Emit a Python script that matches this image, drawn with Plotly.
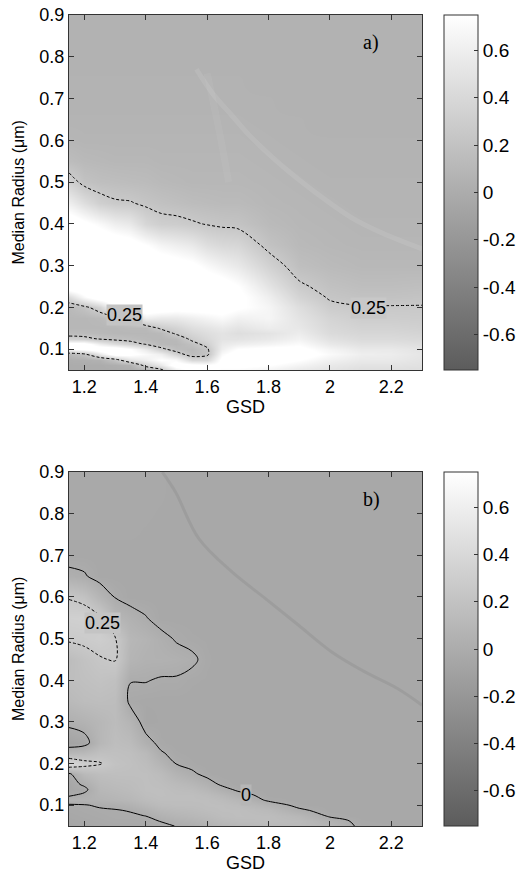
import plotly.graph_objects as go

# ---------------- data ----------------
gsd = [1.15, 1.2, 1.25, 1.3, 1.35, 1.4, 1.45, 1.5, 1.55, 1.6, 1.65, 1.7, 1.8, 1.9, 2.0, 2.1, 2.2, 2.3]
radius = [0.05, 0.0625, 0.075, 0.0875, 0.1, 0.1125, 0.125, 0.1375, 0.15, 0.175, 0.2, 0.225, 0.25,
          0.3, 0.35, 0.4, 0.45, 0.5, 0.55, 0.6, 0.65, 0.7, 0.75, 0.8, 0.85, 0.9]

# panel a) one list per GSD column, values from radius 0.05 up to 0.9
panel_a_by_gsd = [
    [0.0, 0.0, 0.02, 0.12, 0.7, 0.85, 0.35, 0.15, 0.1, 0.1, 0.12, 0.42, 0.95, 1.0, 1.0, 0.9, 0.6, 0.33, 0.15, 0.09, 0.07, 0.06, 0.06, 0.05, 0.05, 0.05],
    [0.0, 0.0, 0.03, 0.2, 0.8, 0.85, 0.32, 0.14, 0.1, 0.1, 0.2, 0.7, 0.95, 1.0, 1.0, 0.8, 0.45, 0.2, 0.12, 0.08, 0.07, 0.06, 0.06, 0.05, 0.05, 0.05],
    [0.0, 0.0, 0.05, 0.55, 0.9, 0.6, 0.22, 0.12, 0.1, 0.12, 0.36, 0.9, 1.0, 1.0, 0.95, 0.7, 0.32, 0.17, 0.11, 0.08, 0.07, 0.06, 0.06, 0.05, 0.05, 0.05],
    [0.0, 0.02, 0.2, 0.85, 0.9, 0.45, 0.18, 0.1, 0.1, 0.2, 0.75, 0.95, 1.0, 1.0, 0.9, 0.6, 0.27, 0.16, 0.1, 0.08, 0.07, 0.06, 0.06, 0.05, 0.05, 0.05],
    [0.0, 0.05, 0.5, 0.8, 0.75, 0.35, 0.15, 0.1, 0.12, 0.3, 0.9, 1.0, 1.0, 1.0, 0.85, 0.55, 0.26, 0.15, 0.1, 0.08, 0.07, 0.06, 0.06, 0.05, 0.05, 0.05],
    [0.05, 0.35, 0.6, 0.7, 0.55, 0.22, 0.12, 0.1, 0.12, 0.6, 0.95, 1.0, 1.0, 0.95, 0.75, 0.38, 0.22, 0.14, 0.1, 0.08, 0.07, 0.06, 0.06, 0.05, 0.05, 0.05],
    [0.2, 0.55, 0.75, 0.6, 0.3, 0.12, 0.1, 0.12, 0.28, 0.55, 0.9, 1.0, 1.0, 0.9, 0.65, 0.31, 0.19, 0.12, 0.09, 0.08, 0.07, 0.06, 0.06, 0.05, 0.05, 0.05],
    [0.6, 0.85, 0.7, 0.35, 0.15, 0.1, 0.12, 0.28, 0.35, 0.55, 0.85, 1.0, 1.0, 0.85, 0.6, 0.3, 0.17, 0.11, 0.09, 0.08, 0.07, 0.06, 0.06, 0.05, 0.05, 0.05],
    [0.85, 0.8, 0.4, 0.15, 0.12, 0.18, 0.3, 0.38, 0.45, 0.6, 0.85, 1.0, 0.95, 0.8, 0.55, 0.27, 0.15, 0.1, 0.09, 0.08, 0.07, 0.06, 0.06, 0.05, 0.05, 0.05],
    [0.85, 0.75, 0.4, 0.2, 0.22, 0.32, 0.4, 0.45, 0.5, 0.65, 0.85, 0.95, 0.9, 0.7, 0.45, 0.24, 0.14, 0.1, 0.09, 0.08, 0.07, 0.06, 0.06, 0.05, 0.05, 0.05],
    [0.7, 0.8, 0.8, 0.7, 0.6, 0.55, 0.5, 0.5, 0.55, 0.7, 0.85, 0.9, 0.85, 0.62, 0.4, 0.22, 0.13, 0.1, 0.09, 0.08, 0.07, 0.06, 0.06, 0.05, 0.05, 0.05],
    [0.7, 0.8, 0.85, 0.85, 0.75, 0.6, 0.5, 0.45, 0.5, 0.62, 0.78, 0.8, 0.75, 0.55, 0.38, 0.21, 0.13, 0.1, 0.09, 0.08, 0.07, 0.06, 0.06, 0.05, 0.05, 0.05],
    [0.65, 0.75, 0.85, 0.9, 0.8, 0.65, 0.55, 0.5, 0.58, 0.66, 0.66, 0.6, 0.5, 0.34, 0.2, 0.13, 0.1, 0.09, 0.08, 0.07, 0.06, 0.06, 0.05, 0.05, 0.05, 0.05],
    [0.55, 0.65, 0.75, 0.85, 0.8, 0.72, 0.64, 0.58, 0.54, 0.5, 0.45, 0.36, 0.28, 0.17, 0.12, 0.1, 0.09, 0.08, 0.07, 0.06, 0.06, 0.05, 0.05, 0.05, 0.05, 0.05],
    [0.5, 0.55, 0.62, 0.7, 0.65, 0.55, 0.48, 0.42, 0.4, 0.36, 0.29, 0.23, 0.19, 0.13, 0.1, 0.09, 0.08, 0.07, 0.06, 0.06, 0.05, 0.05, 0.05, 0.05, 0.05, 0.05],
    [0.45, 0.5, 0.55, 0.6, 0.55, 0.48, 0.42, 0.38, 0.35, 0.3, 0.26, 0.2, 0.16, 0.11, 0.09, 0.08, 0.07, 0.07, 0.06, 0.06, 0.05, 0.05, 0.05, 0.05, 0.05, 0.05],
    [0.45, 0.5, 0.55, 0.58, 0.55, 0.48, 0.42, 0.38, 0.35, 0.3, 0.26, 0.2, 0.16, 0.11, 0.09, 0.08, 0.07, 0.07, 0.06, 0.06, 0.05, 0.05, 0.05, 0.05, 0.05, 0.05],
    [0.45, 0.48, 0.5, 0.52, 0.5, 0.45, 0.4, 0.36, 0.33, 0.29, 0.26, 0.21, 0.17, 0.11, 0.09, 0.08, 0.07, 0.07, 0.06, 0.06, 0.05, 0.05, 0.05, 0.05, 0.05, 0.05],
]

# panel b) one list per GSD column, values from radius 0.05 up to 0.9
panel_b_by_gsd = [
    [-0.06, -0.05, -0.04, -0.03, -0.01, 0.05, -0.02, -0.05, -0.05, -0.02, 0.4, 0.1, -0.08, 0.03, 0.12, 0.16, 0.15, 0.27, 0.32, 0.24, 0.03, -0.04, -0.03, -0.03, -0.03, -0.03],
    [-0.05, -0.04, -0.03, -0.02, -0.005, 0.05, 0.02, -0.03, 0.02, 0.12, 0.3, 0.12, -0.05, 0.06, 0.15, 0.18, 0.2, 0.28, 0.33, 0.2, 0.01, -0.04, -0.03, -0.03, -0.03, -0.03],
    [-0.04, -0.03, -0.02, -0.01, 0.01, 0.06, 0.08, 0.1, 0.12, 0.16, 0.26, 0.18, 0.1, 0.1, 0.16, 0.2, 0.24, 0.3, 0.27, 0.08, -0.04, -0.04, -0.03, -0.03, -0.03, -0.03],
    [-0.03, -0.02, -0.01, -0.005, 0.02, 0.08, 0.1, 0.12, 0.14, 0.17, 0.2, 0.18, 0.16, 0.14, 0.15, 0.18, 0.26, 0.26, 0.1, -0.005, -0.04, -0.04, -0.03, -0.03, -0.03, -0.03],
    [-0.03, -0.02, -0.01, 0.005, 0.05, 0.1, 0.12, 0.14, 0.15, 0.17, 0.18, 0.17, 0.14, 0.08, -0.03, 0.005, 0.08, 0.1, 0.05, -0.04, -0.04, -0.04, -0.03, -0.03, -0.03, -0.03],
    [-0.03, -0.02, 0.002, 0.05, 0.1, 0.14, 0.16, 0.17, 0.17, 0.17, 0.15, 0.12, 0.04, -0.05, -0.04, 0.005, 0.05, 0.07, 0.005, -0.04, -0.04, -0.04, -0.035, -0.03, -0.03, -0.03],
    [-0.02, 0.005, 0.05, 0.1, 0.14, 0.16, 0.17, 0.17, 0.16, 0.14, 0.08, 0.01, -0.03, -0.04, -0.04, -0.01, 0.05, 0.03, -0.04, -0.04, -0.04, -0.04, -0.04, -0.035, -0.03, -0.03],
    [0.003, 0.04, 0.08, 0.12, 0.15, 0.16, 0.16, 0.15, 0.13, 0.07, -0.005, -0.03, -0.04, -0.04, -0.04, -0.01, 0.04, -0.01, -0.04, -0.04, -0.04, -0.04, -0.04, -0.04, -0.04, -0.04],
    [0.02, 0.06, 0.1, 0.13, 0.15, 0.16, 0.16, 0.14, 0.1, 0.02, -0.03, -0.04, -0.04, -0.04, -0.04, -0.03, 0.02, -0.03, -0.04, -0.04, -0.04, -0.04, -0.04, -0.04, -0.04, -0.04],
    [0.05, 0.09, 0.12, 0.15, 0.16, 0.16, 0.14, 0.1, 0.05, -0.03, -0.04, -0.04, -0.04, -0.04, -0.04, -0.035, -0.03, -0.035, -0.04, -0.04, -0.04, -0.04, -0.04, -0.04, -0.04, -0.04],
    [0.08, 0.12, 0.15, 0.16, 0.16, 0.14, 0.1, 0.04, -0.02, -0.04, -0.04, -0.04, -0.04, -0.04, -0.04, -0.04, -0.04, -0.04, -0.04, -0.04, -0.04, -0.04, -0.04, -0.04, -0.04, -0.04],
    [0.1, 0.14, 0.16, 0.16, 0.14, 0.1, 0.04, -0.02, -0.04, -0.04, -0.04, -0.04, -0.04, -0.04, -0.04, -0.04, -0.04, -0.04, -0.04, -0.04, -0.04, -0.04, -0.04, -0.04, -0.04, -0.04],
    [0.12, 0.15, 0.15, 0.12, 0.06, -0.02, -0.04, -0.04, -0.04, -0.04, -0.04, -0.04, -0.04, -0.04, -0.04, -0.04, -0.04, -0.04, -0.04, -0.04, -0.04, -0.04, -0.04, -0.04, -0.04, -0.04],
    [0.12, 0.13, 0.1, 0.02, -0.03, -0.04, -0.04, -0.04, -0.04, -0.04, -0.04, -0.04, -0.04, -0.04, -0.04, -0.04, -0.04, -0.04, -0.04, -0.04, -0.04, -0.04, -0.04, -0.04, -0.04, -0.04],
    [0.08, 0.05, -0.02, -0.04, -0.04, -0.04, -0.04, -0.04, -0.04, -0.04, -0.04, -0.04, -0.04, -0.04, -0.04, -0.04, -0.04, -0.04, -0.04, -0.04, -0.04, -0.04, -0.04, -0.04, -0.04, -0.04],
    [-0.02, -0.03, -0.04, -0.04, -0.04, -0.04, -0.04, -0.04, -0.04, -0.04, -0.04, -0.04, -0.04, -0.04, -0.04, -0.04, -0.04, -0.04, -0.04, -0.04, -0.04, -0.04, -0.04, -0.04, -0.04, -0.04],
    [-0.03, -0.04, -0.04, -0.04, -0.04, -0.04, -0.04, -0.04, -0.04, -0.04, -0.04, -0.04, -0.04, -0.04, -0.04, -0.04, -0.04, -0.04, -0.04, -0.04, -0.04, -0.04, -0.04, -0.04, -0.04, -0.04],
    [-0.03, -0.04, -0.04, -0.04, -0.04, -0.04, -0.04, -0.04, -0.04, -0.04, -0.04, -0.04, -0.04, -0.04, -0.04, -0.04, -0.04, -0.04, -0.04, -0.04, -0.04, -0.04, -0.04, -0.04, -0.04, -0.04],
]

# faint streaks visible in the maps
streak_a_gsd = [1.565, 1.62, 1.68, 1.74, 1.85, 1.955, 2.07, 2.17, 2.3]
streak_a_radius = [0.77, 0.71, 0.66, 0.61, 0.535, 0.474, 0.415, 0.378, 0.34]
streak_a2_gsd = [1.6, 1.64, 1.67]
streak_a2_radius = [0.76, 0.62, 0.5]
streak_b_gsd = [1.454, 1.497, 1.573, 1.681, 1.79, 1.898, 2.006, 2.114, 2.22, 2.3]
streak_b_radius = [0.9, 0.852, 0.74, 0.66, 0.596, 0.532, 0.468, 0.42, 0.38, 0.34]

x_ticks = [1.2, 1.4, 1.6, 1.8, 2.0, 2.2]
x_tick_text = ["1.2", "1.4", "1.6", "1.8", "2", "2.2"]
y_ticks = [0.1, 0.2, 0.3, 0.4, 0.5, 0.6, 0.7, 0.8, 0.9]
y_tick_text = ["0.1", "0.2", "0.3", "0.4", "0.5", "0.6", "0.7", "0.8", "0.9"]
cb_ticks = [-0.6, -0.4, -0.2, 0, 0.2, 0.4, 0.6]
cb_tick_text = ["-0.6", "-0.4", "-0.2", "0", "0.2", "0.4", "0.6"]

# ---------------- figure ----------------
W, H = 517, 873
FONT = "Liberation Sans, Arial, sans-serif"
AX = "#333333"
TS = 18
gray = [[0.0, "rgb(92,92,92)"], [0.5, "rgb(172,172,172)"], [1.0, "rgb(255,255,255)"]]


def rows(cols):
    return [list(r) for r in zip(*cols)]


def py(p):  # pixel row -> paper y
    return 1 - p / H


za = rows(panel_a_by_gsd)
zb = rows(panel_b_by_gsd)

panels = [
    dict(z=za, top=15, bot=370, xa="x", ya="y"),
    dict(z=zb, top=472, bot=826, xa="x2", ya="y2"),
]

fig = go.Figure()
for p in panels:
    fig.add_trace(go.Heatmap(
        x=gsd, y=radius, z=p["z"], xaxis=p["xa"], yaxis=p["ya"],
        zmin=-0.75, zmax=0.75, colorscale=gray, zsmooth="best", hoverinfo="skip",
        colorbar=dict(
            x=444 / W, xanchor="left", xpad=0, ypad=0,
            y=py((p["top"] + p["bot"]) / 2), yanchor="middle",
            len=p["bot"] - p["top"], lenmode="pixels",
            thickness=34, thicknessmode="pixels",
            outlinewidth=1, outlinecolor=AX,
            tickvals=cb_ticks, ticktext=cb_tick_text,
            ticks="inside", ticklen=4, tickcolor=AX,
            tickfont=dict(family=FONT, size=19, color="black"),
        ),
    ))

# streak overlays
fig.add_trace(go.Scatter(x=streak_a_gsd, y=streak_a_radius, xaxis="x", yaxis="y", mode="lines",
                         line=dict(color="rgba(255,255,255,0.09)", width=5, shape="spline"),
                         hoverinfo="skip", showlegend=False))
fig.add_trace(go.Scatter(x=streak_a2_gsd, y=streak_a2_radius, xaxis="x", yaxis="y", mode="lines",
                         line=dict(color="rgba(255,255,255,0.05)", width=7, shape="spline"),
                         hoverinfo="skip", showlegend=False))
fig.add_trace(go.Scatter(x=streak_b_gsd, y=streak_b_radius, xaxis="x2", yaxis="y2", mode="lines",
                         line=dict(color="rgba(40,40,40,0.08)", width=3, shape="spline"),
                         hoverinfo="skip", showlegend=False))

# contours
def contour(z, level, dash, xa, ya):
    return go.Contour(
        x=gsd, y=radius, z=z, xaxis=xa, yaxis=ya, showscale=False, hoverinfo="skip",
        contours=dict(start=level, end=level, size=1, coloring="none", showlabels=False),
        line=dict(color="black", width=1, dash=dash, smoothing=1.0),
    )

fig.add_trace(contour(za, 0.25, "3px,2px", "x", "y"))
fig.add_trace(contour(zb, 0.0, "solid", "x2", "y2"))
fig.add_trace(contour(zb, 0.25, "3px,2px", "x2", "y2"))

xdom = [69 / W, 422 / W]
common_x = dict(domain=xdom, range=[1.15, 2.3], tickvals=x_ticks, ticktext=x_tick_text,
                ticks="inside", ticklen=5, tickcolor=AX, showline=True, linecolor=AX, linewidth=1,
                mirror="ticks", showgrid=False, zeroline=False, automargin=False,
                tickfont=dict(family=FONT, size=TS, color="black"))
common_y = dict(range=[0.05, 0.9], tickvals=y_ticks, ticktext=y_tick_text,
                ticks="inside", ticklen=5, tickcolor=AX, showline=True, linecolor=AX, linewidth=1,
                mirror="ticks", showgrid=False, zeroline=False, automargin=False,
                tickfont=dict(family=FONT, size=TS, color="black"))

fig.update_layout(
    width=W, height=H, autosize=False,
    margin=dict(l=0, r=0, t=0, b=0, autoexpand=False),
    paper_bgcolor="white", plot_bgcolor="white",
    showlegend=False,
    xaxis=dict(common_x, anchor="y"),
    yaxis=dict(common_y, anchor="x", domain=[py(370), py(15)]),
    xaxis2=dict(common_x, anchor="y2"),
    yaxis2=dict(common_y, anchor="x2", domain=[py(826), py(472)]),
)

ann = []
serif = dict(family="Liberation Serif, Times New Roman, serif", size=20, color="black")
ann.append(dict(x=2.134, y=0.835, xref="x", yref="y", text="a)", showarrow=False, font=serif,
                xanchor="center", yanchor="middle"))
ann.append(dict(x=2.134, y=0.835, xref="x2", yref="y2", text="b)", showarrow=False, font=serif,
                xanchor="center", yanchor="middle"))
# contour labels
lab_font = dict(family=FONT, size=TS, color="black")
for xr, yr, x, y, txt, bg in [
    ("x", "y", 1.33, 0.181, "0.25", "rgb(196,196,196)"),
    ("x", "y", 2.127, 0.199, "0.25", "rgb(200,200,200)"),
    ("x2", "y2", 1.26, 0.537, "0.25", "rgb(196,196,196)"),
    ("x2", "y2", 1.725, 0.124, "0", "rgb(182,182,182)"),
]:
    ann.append(dict(x=x, y=y, xref=xr, yref=yr, text=txt, showarrow=False, font=lab_font,
                    bgcolor=bg, borderpad=0, xanchor="center", yanchor="middle"))
# axis titles
for top, bot, gy in [(15, 370, 407), (472, 826, 863)]:
    ann.append(dict(x=18 / W, y=py((top + bot) / 2), xref="paper", yref="paper",
                    text="Median Radius (μm)", textangle=-90, showarrow=False,
                    xanchor="center", yanchor="middle",
                    font=dict(family=FONT, size=16, color="black")))
    ann.append(dict(x=245.5 / W, y=py(gy), xref="paper", yref="paper", text="GSD",
                    showarrow=False, xanchor="center", yanchor="middle",
                    font=dict(family=FONT, size=TS, color="black")))
fig.update_layout(annotations=ann)

fig.write_html("out.html")
